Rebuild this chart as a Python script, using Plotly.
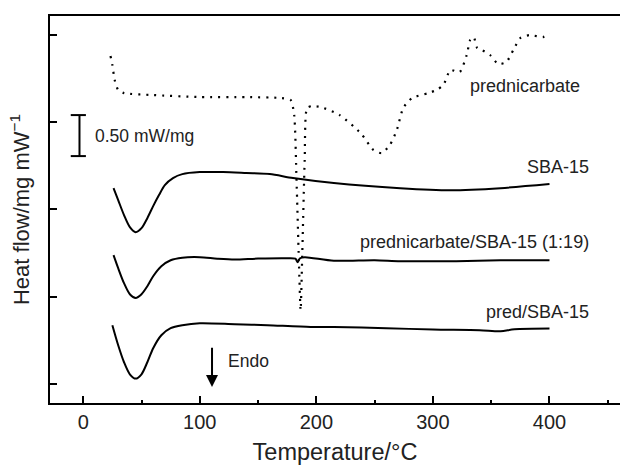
import plotly.graph_objects as go

# Prednicarbate (dotted)
pred_T = [23.4, 25, 27, 30, 35, 60, 100, 140, 170, 178, 181, 183, 185, 186.5, 188, 190, 192, 196, 204,
          220, 238, 249, 256, 263, 269, 274.5, 282, 296, 303, 309, 315, 323, 329, 332, 335, 338, 342,
          349, 356, 363, 369, 375, 383, 394.5, 400]
pred_Y = [3.762, 3.66, 3.486, 3.371, 3.336, 3.314, 3.291, 3.291, 3.279, 3.256, 3.083, 2.337, 1.417, 0.842,
          1.532, 2.567, 3.164, 3.187, 3.176, 3.084, 2.877, 2.682, 2.647, 2.739, 2.911, 3.164, 3.279,
          3.336, 3.371, 3.429, 3.601, 3.578, 3.774, 3.946, 3.98, 3.854, 3.831, 3.774, 3.670, 3.693,
          3.831, 3.969, 4.003, 3.98, 4.026]

# SBA-15
sba_T = [26, 30, 35, 40, 45, 50, 55, 60, 65, 70, 77, 85, 100, 120, 140, 160, 180, 215, 272, 315, 358, 400]
sba_Y = [2.245, 2.107, 1.935, 1.797, 1.739, 1.785, 1.900, 2.038, 2.165, 2.280, 2.360, 2.406, 2.429, 2.429,
         2.418, 2.406, 2.360, 2.303, 2.245, 2.222, 2.245, 2.291]

# prednicarbate/SBA-15 (1:19)
mix_T = [26, 30, 35, 40, 45, 50, 55, 60, 67, 75, 85, 100, 115, 130, 150, 175, 182, 184, 186, 190, 215,
         250, 272, 320, 358, 400]
mix_Y = [1.475, 1.325, 1.153, 1.026, 0.984, 1.026, 1.118, 1.233, 1.348, 1.417, 1.446, 1.452, 1.435, 1.425,
         1.436, 1.440, 1.434, 1.394, 1.440, 1.452, 1.411, 1.417, 1.406, 1.406, 1.417, 1.417]

# pred/SBA-15
ps_T = [25, 30, 35, 40, 45, 50, 55, 60, 67, 75, 85, 100, 130, 158, 195, 215, 260, 300, 340, 358, 370, 400]
ps_Y = [0.670, 0.440, 0.245, 0.107, 0.057, 0.107, 0.245, 0.406, 0.555, 0.636, 0.670, 0.693, 0.682, 0.670,
        0.651, 0.651, 0.636, 0.621, 0.613, 0.600, 0.624, 0.632]

x_ticks = [0, 100, 200, 300, 400]
y_ticks = [0, 1, 2, 3, 4]

FONT = "Liberation Sans, Arial, sans-serif"
TXT = "#222"
fig = go.Figure()
fig.add_trace(go.Scatter(x=pred_T, y=pred_Y, mode="lines",
                         line=dict(color="black", width=2.2, dash="2px,6px", shape="spline", smoothing=0.6)))
for T, Y in [(sba_T, sba_Y), (mix_T, mix_Y), (ps_T, ps_Y)]:
    fig.add_trace(go.Scatter(x=T, y=Y, mode="lines",
                             line=dict(color="black", width=2, shape="spline", smoothing=0.8)))

labels = [("prednicarbate", 428, 3.416), ("SBA-15", 435.5, 2.486),
          ("prednicarbate/SBA-15 (1:19)", 435.5, 1.628), ("pred/SBA-15", 435.5, 0.823)]
for t, x, y in labels:
    fig.add_annotation(x=x, y=y, text=t, showarrow=False, xanchor="right", yanchor="middle",
                       font=dict(size=18, color=TXT, family=FONT))

# scale bar 0.50 mW/mg
bar_x = -3.2
bar_y0, bar_y1 = 2.613, 3.084
fig.add_shape(type="line", x0=bar_x, x1=bar_x, y0=bar_y0, y1=bar_y1, line=dict(color="black", width=2))
for yy in (bar_y0, bar_y1):
    fig.add_shape(type="line", x0=bar_x - 7.5, x1=bar_x + 5.5, y0=yy, y1=yy, line=dict(color="black", width=2))
fig.add_annotation(x=8.5, y=(bar_y0 + bar_y1) / 2, text="0.50 mW/mg", showarrow=False, xanchor="left",
                   font=dict(size=17.5, color=TXT, family=FONT))

# Endo arrow
fig.add_annotation(x=110.5, y=-0.04, ax=110.5, ay=0.43, xref="x", yref="y", axref="x", ayref="y", text="",
                   showarrow=True, arrowhead=2, arrowsize=1.2, arrowwidth=2, arrowcolor="black")
fig.add_annotation(x=122.5, y=0.257, text="Endo", showarrow=False, xanchor="left",
                   font=dict(size=17.5, color=TXT, family=FONT))

fig.update_layout(
    width=620, height=465, margin=dict(l=50, r=0, t=16, b=62),
    plot_bgcolor="white", paper_bgcolor="white", showlegend=False,
    font=dict(family=FONT, color=TXT),
    xaxis=dict(range=[-28.5, 460.5], tickvals=x_ticks, ticks="inside", ticklen=7, tickwidth=2,
               showline=True, linewidth=2, linecolor="black", mirror=True, showgrid=False, zeroline=False,
               tickfont=dict(size=20), title=dict(text="Temperature/°C", font=dict(size=23.5), standoff=13),
               minor=dict(ticks="inside", ticklen=3, tickwidth=2, tickcolor="black", dtick=50, tick0=0),
               tickcolor="black"),
    yaxis=dict(range=[-0.223, 4.222], tickvals=y_ticks, ticks="inside", ticklen=7, tickwidth=2,
               showticklabels=False, showline=True, linewidth=2, linecolor="black", showgrid=False,
               zeroline=False, tickcolor="black",
               title=dict(text="Heat flow/mg mW<sup>−1</sup>", font=dict(size=22), standoff=12)),
)
fig.write_html("out.html")
